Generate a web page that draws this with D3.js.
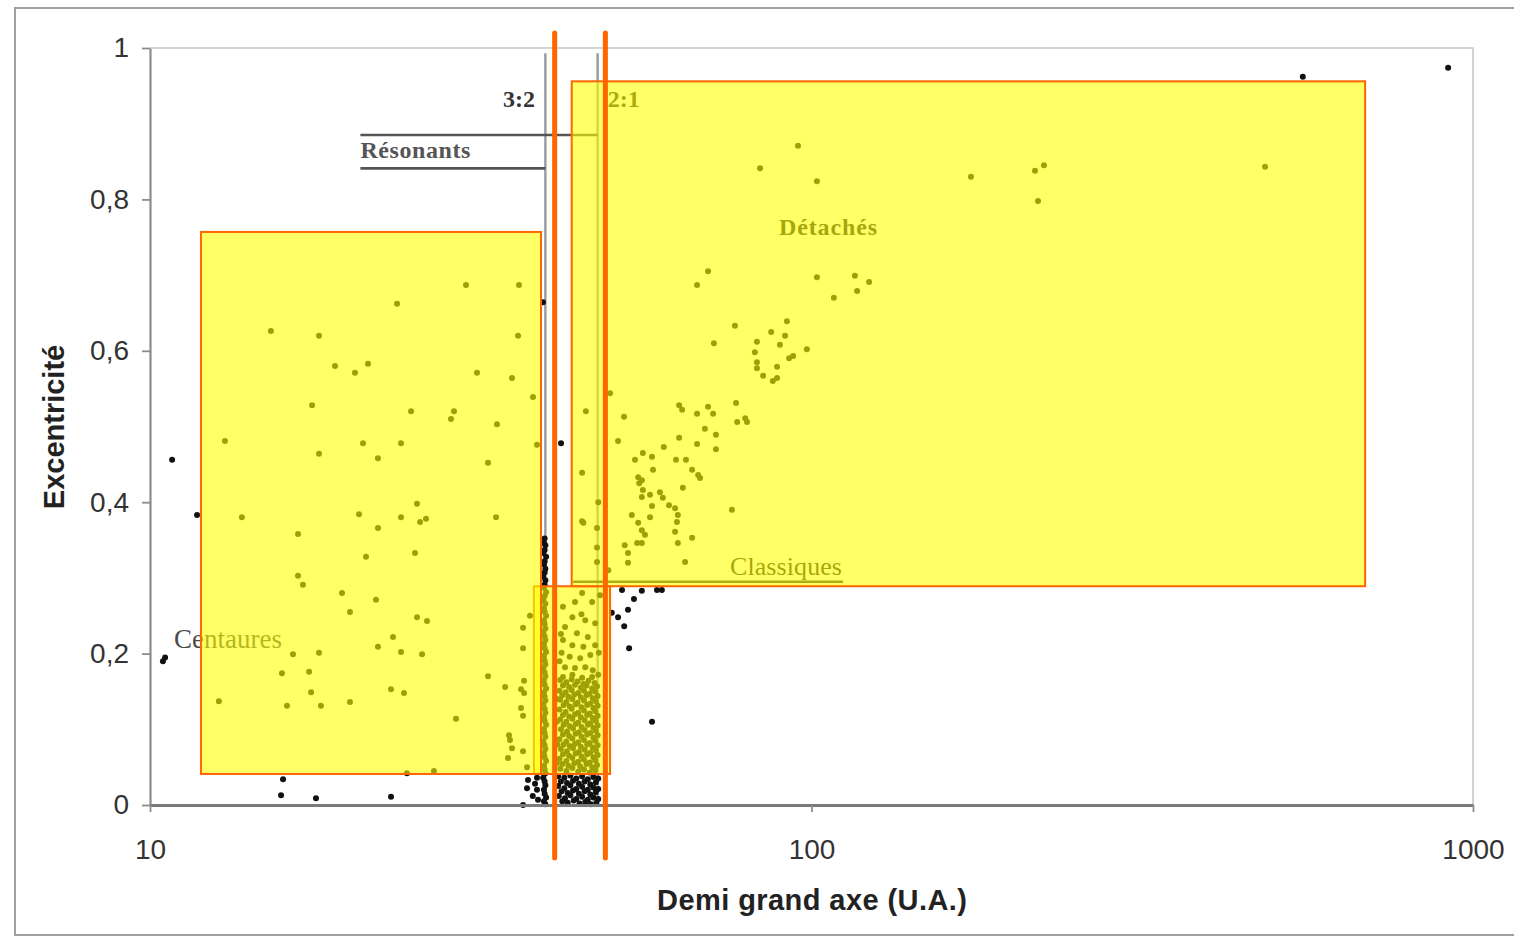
<!DOCTYPE html>
<html>
<head>
<meta charset="utf-8">
<script src="https://cdn.jsdelivr.net/npm/d3@7"></script>
<style>
  html, body { margin: 0; padding: 0; background: #fff; }
  svg { display: block; }
</style>
</head>
<body>
<svg id="chart" width="1514" height="938"></svg>
<script>
// Axis ticks
const xTicks = [10, 100, 1000];
const xTickLabels = ["10", "100", "1000"];
const yTicks = [0, 0.2, 0.4, 0.6, 0.8, 1];
const yTickLabels = ["0", "0,2", "0,4", "0,6", "0,8", "1"];

// Objects as [demi grand axe (UA), excentricité]
const centaures = [
  [10.80,0.456],[11.78,0.383],[10.54,0.195],[10.46,0.190],[30.04,0.687],[36.13,0.687],
  [23.63,0.662],[39.27,0.664],[15.23,0.626],[18.01,0.620],[36.01,0.620],[19.04,0.580],
  [20.41,0.571],[21.36,0.583],[31.21,0.571],[35.26,0.564],[37.93,0.539],[17.58,0.528],
  [24.81,0.520],[28.81,0.520],[28.51,0.510],[33.46,0.503],[12.98,0.481],[20.99,0.478],
  [23.96,0.478],[38.46,0.476],[18.01,0.464],[22.11,0.458],[32.43,0.452],[25.33,0.398],
  [13.77,0.380],[20.70,0.384],[23.96,0.380],[25.60,0.374],[26.14,0.378],[33.35,0.380],
  [22.11,0.366],[16.74,0.358],[21.21,0.328],[25.15,0.333],[16.74,0.303],[17.03,0.291],
  [19.51,0.280],[21.96,0.271],[20.06,0.255],[25.33,0.248],[26.23,0.243],[37.53,0.250],
  [36.64,0.234],[23.30,0.222],[22.11,0.209],[23.96,0.202],[25.78,0.199],[16.45,0.199],
  [18.01,0.201],[36.64,0.207],[15.83,0.174],[17.40,0.176],[32.43,0.170],[34.42,0.156],
  [36.77,0.164],[36.38,0.153],[36.77,0.148],[17.52,0.149],[23.14,0.153],[24.21,0.148],
  [12.71,0.137],[16.11,0.131],[18.13,0.131],[20.06,0.136],[36.38,0.128],[36.64,0.118],
  [29.01,0.114],[34.89,0.092],[35.01,0.086],[35.26,0.075],[36.64,0.071],[34.77,0.062],
  [37.15,0.050],[24.46,0.042],[26.87,0.045],[15.89,0.034],[15.78,0.013],[17.82,0.009],
  [23.14,0.011],[37.28,0.033],[38.46,0.036],[37.15,0.022],[38.60,0.007],[36.64,0.000],
  [38.46,0.020],[37.9,0.012],[38.2,0.028]
];

const plutinos = [
  [39.5,0.352],[39.4,0.346],[39.6,0.343],[39.5,0.337],[39.3,0.333],[39.7,0.328],[39.5,0.322],
  [39.4,0.318],[39.6,0.312],[39.5,0.307],[39.3,0.302],[39.6,0.297],[39.5,0.291],[39.4,0.287],
  [39.7,0.281],[39.5,0.276],[39.3,0.270],[39.6,0.266],[39.4,0.260],[39.5,0.255],[39.7,0.250],
  [39.4,0.244],[39.5,0.239],[39.6,0.233],[39.3,0.229],[39.5,0.223],[39.6,0.218],[39.4,0.213],
  [39.5,0.207],[39.7,0.202],[39.4,0.197],[39.5,0.191],[39.6,0.186],[39.3,0.181],[39.5,0.175],
  [39.6,0.170],[39.4,0.165],[39.5,0.159],[39.7,0.154],[39.4,0.149],[39.5,0.143],[39.6,0.138],
  [39.3,0.133],[39.5,0.127],[39.6,0.122],[39.4,0.116],[39.5,0.111],[39.7,0.106],[39.4,0.100],
  [39.5,0.095],[39.6,0.090],[39.3,0.084],[39.5,0.079],[39.6,0.074],[39.4,0.068],[39.5,0.063],
  [39.7,0.058],[39.4,0.052],[39.5,0.047],[39.6,0.042],[39.3,0.036],[39.5,0.031],[39.6,0.026],
  [39.4,0.020],[39.5,0.015],[39.7,0.010],[39.4,0.005],[39.6,0.001]
];

const classiques = [
  // partie clairsemée
  [42.1,0.262],[43.9,0.268],[45.0,0.280],[46.6,0.268],[47.9,0.277],[43.5,0.248],[45.5,0.244],
  [47.1,0.240],[42.4,0.235],[44.2,0.227],[45.9,0.222],[42.1,0.218],[43.5,0.211],[45.2,0.209],
  [47.1,0.211],[41.9,0.201],[43.1,0.196],[44.7,0.194],[46.3,0.198],[47.7,0.201],[42.4,0.182],
  [43.9,0.181],[45.5,0.182],[46.7,0.178],[42.1,0.169],[43.5,0.172],[45.0,0.168],[46.6,0.169],
  [47.6,0.172],[41.6,0.190],[41.8,0.226],[44.9,0.252],
  // noyau dense
  [41.7,0.165],[42.6,0.162],[43.4,0.166],[44.3,0.163],[45.2,0.160],[46.0,0.164],[47.0,0.161],
  [42.1,0.158],[43.0,0.156],[43.9,0.159],[44.8,0.155],[45.7,0.158],[46.6,0.154],[47.4,0.157],
  [41.6,0.151],[42.5,0.149],[43.4,0.152],[44.4,0.148],[45.3,0.151],[46.2,0.147],[47.1,0.150],
  [42.0,0.145],[42.9,0.143],[43.8,0.146],[44.8,0.142],[45.7,0.145],[46.7,0.141],[47.5,0.144],
  [41.7,0.139],[42.6,0.136],[43.5,0.140],[44.3,0.135],[45.3,0.138],[46.3,0.134],[47.2,0.137],
  [42.2,0.132],[43.1,0.130],[44.0,0.133],[44.9,0.129],[45.8,0.132],[46.8,0.128],[47.5,0.131],
  [41.6,0.126],[42.5,0.123],[43.4,0.127],[44.4,0.122],[45.3,0.125],[46.2,0.121],[47.1,0.124],
  [42.1,0.119],[43.0,0.117],[43.9,0.120],[44.8,0.116],[45.8,0.119],[46.7,0.115],[47.5,0.118],
  [41.7,0.113],[42.6,0.110],[43.5,0.114],[44.4,0.109],[45.4,0.112],[46.3,0.108],[47.2,0.111],
  [42.2,0.106],[43.1,0.104],[44.0,0.107],[44.9,0.103],[45.9,0.106],[46.8,0.102],[47.5,0.105],
  [41.8,0.100],[42.7,0.097],[43.6,0.101],[44.5,0.096],[45.4,0.099],[46.3,0.095],[47.2,0.098],
  [42.1,0.093],[43.0,0.091],[44.0,0.094],[44.9,0.090],[45.8,0.093],[46.8,0.089],[47.5,0.092],
  [41.6,0.087],[42.6,0.084],[43.5,0.088],[44.4,0.083],[45.3,0.086],[46.2,0.082],[47.1,0.085],
  [42.2,0.080],[43.1,0.078],[43.9,0.081],[44.8,0.077],[45.8,0.080],[46.7,0.076],[47.5,0.079],
  [41.8,0.074],[42.7,0.071],[43.6,0.075],[44.5,0.070],[45.4,0.073],[46.3,0.069],[47.2,0.072],
  [42.1,0.067],[43.0,0.065],[44.0,0.068],[44.9,0.064],[45.8,0.067],[46.8,0.063],[47.5,0.066],
  [41.6,0.061],[42.6,0.058],[43.5,0.062],[44.4,0.057],[45.3,0.060],[46.2,0.056],[47.1,0.059],
  [42.0,0.054],[42.9,0.052],[43.8,0.055],[44.7,0.051],[45.7,0.054],[46.6,0.050],[47.4,0.053],
  [41.7,0.048],[42.6,0.045],[43.5,0.049],[44.4,0.044],[45.3,0.047],[46.2,0.043],[47.1,0.046],
  [41.3,0.140],[41.2,0.110],[41.3,0.080],[41.2,0.055],
  // excentricités faibles
  [41.4,0.038],[42.3,0.036],[43.2,0.039],[44.1,0.035],[45.0,0.038],[45.9,0.034],[46.8,0.037],[47.6,0.035],
  [41.8,0.031],[42.7,0.029],[43.6,0.032],[44.5,0.028],[45.4,0.031],[46.3,0.027],[47.2,0.030],
  [41.4,0.025],[42.3,0.022],[43.2,0.026],[44.1,0.021],[45.0,0.024],[45.9,0.020],[46.8,0.023],[47.6,0.021],
  [41.9,0.018],[42.8,0.016],[43.6,0.019],[44.5,0.015],[45.4,0.018],[46.3,0.014],[47.2,0.017],
  [41.5,0.012],[42.4,0.009],[43.2,0.013],[44.1,0.008],[45.0,0.011],[45.9,0.007],[46.8,0.010],[47.6,0.008],
  [42.0,0.005],[42.8,0.003],[43.7,0.006],[44.6,0.002],[45.5,0.004],[46.4,0.001],[47.3,0.003]
];

const detaches = [
  [95.4,0.871],[83.6,0.841],[101.9,0.824],[174.2,0.830],[217.7,0.838],[224.6,0.845],[220.0,0.798],
  [484.9,0.843],[69.76,0.705],[67.14,0.687],[101.9,0.697],[116.3,0.699],[122.2,0.691],[117.2,0.679],
  [108.1,0.670],[76.6,0.633],[91.8,0.639],[86.9,0.625],[91.2,0.620],[82.7,0.612],[71.2,0.610],
  [89.6,0.608],[98.4,0.602],[82.1,0.598],[93.8,0.593],[92.5,0.590],[82.7,0.585],[82.7,0.577],
  [88.7,0.579],[84.5,0.567],[88.7,0.564],[87.4,0.560],[49.6,0.544],[45.6,0.520],[76.9,0.531],
  [52.07,0.513],[63.08,0.528],[63.74,0.522],[67.14,0.517],[69.76,0.526],[71.0,0.517],[77.2,0.506],
  [79.4,0.511],[79.9,0.506],[69.0,0.497],[71.7,0.489],[51.0,0.481],[63.08,0.485],[67.14,0.477],
  [71.7,0.470],[59.8,0.473],[54.1,0.456],[55.6,0.465],[57.4,0.460],[62.4,0.456],[64.6,0.456],
  [57.6,0.443],[66.0,0.443],[67.4,0.436],[67.85,0.432],[54.7,0.433],[55.4,0.429],[54.9,0.425],
  [63.9,0.419],[55.6,0.416],[55.4,0.407],[57.0,0.410],[59.0,0.413],[59.6,0.406],[57.4,0.395],
  [60.9,0.396],[62.2,0.392],[62.8,0.383],[53.5,0.383],[57.0,0.380],[75.8,0.390],[54.7,0.373],
  [55.4,0.363],[56.0,0.357],[62.6,0.374],[62.2,0.361],[66.0,0.353],[52.2,0.343],[54.5,0.346],
  [55.4,0.346],[62.8,0.346],[52.8,0.333],[52.8,0.320],[64.4,0.321],[49.3,0.310],[45.0,0.439],
  [45.0,0.375],[47.6,0.400],[47.4,0.366],[47.4,0.340],[47.4,0.321],[45.2,0.373]
];

const isoles = [
  [41.82,0.478],[51.7,0.284],[55.4,0.283],[58.4,0.284],[59.4,0.284],[53.9,0.272],[52.8,0.258],
  [51.0,0.248],[52.1,0.236],[53.0,0.207],[57.4,0.110],[49.9,0.254],[553,0.962],[917,0.974]
];

// Resonances with Neptune and region boundaries
const resonances = [{ nom: "3:2", a: 39.6 }, { nom: "2:1", a: 47.5 }];
const zones = [
  { nom: "Classiques", a0: 38.06, a1: 49.6, e0: 0.041, e1: 0.289 },
  { nom: "Centaures", a0: 11.94, a1: 39.0, e0: 0.041, e1: 0.757 },
  { nom: "Détachés", a0: 43.4, a1: 687, e0: 0.289, e1: 0.956 }
];
const bornes = [40.9, 48.8];

const svg = d3.select("#chart");
const x = d3.scaleLog().domain([10, 1000]).range([150, 1473]);
const y = d3.scaleLinear().domain([0, 1]).range([805, 48]);

// Outer frame
svg.append("rect")
  .attr("x", 15).attr("y", 8).attr("width", 1540).attr("height", 927)
  .attr("fill", "none").attr("stroke", "#a0a0a0").attr("stroke-width", 2);

// Plot area border (top and right)
svg.append("path")
  .attr("d", `M${x(10)},${y(1)}H${x(1000)}V${y(0)}`)
  .attr("fill", "none").attr("stroke", "#c8c8c8").attr("stroke-width", 1.6);

// Resonance lines
const annot = svg.append("g");
annot.selectAll("line.res").data(resonances).join("line")
  .attr("class", "res")
  .attr("x1", d => x(d.a)).attr("x2", d => x(d.a))
  .attr("y1", y(0.993)).attr("y2", y(0))
  .attr("stroke", "#9a9a9a").attr("stroke-width", 2.4);

const serif = "'Liberation Serif', 'Times New Roman', serif";
annot.append("text").text("3:2")
  .attr("x", x(38.2)).attr("y", y(0.922)).attr("text-anchor", "end")
  .attr("font-family", serif).attr("font-weight", "bold").attr("font-size", 24)
  .attr("fill", "#333").attr("textLength", 32);
annot.append("text").text("2:1")
  .attr("x", x(49.2)).attr("y", y(0.922))
  .attr("font-family", serif).attr("font-weight", "bold").attr("font-size", 24)
  .attr("fill", "#2a2a2a").attr("textLength", 32);

// Résonants bracket
annot.append("line")
  .attr("x1", x(20.8)).attr("x2", x(47.5)).attr("y1", y(0.885)).attr("y2", y(0.885))
  .attr("stroke", "#555").attr("stroke-width", 2.6);
annot.append("line")
  .attr("x1", x(20.8)).attr("x2", x(39.6)).attr("y1", y(0.841)).attr("y2", y(0.841))
  .attr("stroke", "#555").attr("stroke-width", 2.6);
annot.append("text").text("Résonants")
  .attr("x", x(20.8)).attr("y", y(0.855))
  .attr("font-family", serif).attr("font-weight", "bold").attr("font-size", 24)
  .attr("fill", "#555").attr("textLength", 110);

annot.append("text").text("Détachés")
  .attr("x", x(89.3)).attr("y", y(0.753))
  .attr("font-family", serif).attr("font-weight", "bold").attr("font-size", 24)
  .attr("fill", "#222").attr("textLength", 98);

annot.append("text").text("Classiques")
  .attr("x", x(75.3)).attr("y", y(0.304))
  .attr("font-family", serif).attr("font-size", 26)
  .attr("fill", "#222").attr("textLength", 112);
annot.append("line")
  .attr("x1", x(43.6)).attr("x2", x(111.6)).attr("y1", y(0.295)).attr("y2", y(0.295))
  .attr("stroke", "#333").attr("stroke-width", 2.4);

annot.append("text").text("Centaures")
  .attr("x", x(10.87)).attr("y", y(0.207))
  .attr("font-family", serif).attr("font-size", 27)
  .attr("fill", "#4a4a4a").attr("textLength", 108);

// Objects
const allObjects = [...centaures, ...plutinos, ...classiques, ...detaches, ...isoles];
svg.append("g").selectAll("circle").data(allObjects).join("circle")
  .attr("cx", d => x(d[0])).attr("cy", d => y(d[1])).attr("r", 3)
  .attr("fill", "#111");

// Axes
const sans = "'Liberation Sans', Arial, sans-serif";
const yAxis = svg.append("g").attr("transform", `translate(${x(10)},0)`)
  .call(d3.axisLeft(y).tickValues(yTicks)
    .tickFormat((d, i) => yTickLabels[i]).tickSize(8).tickSizeOuter(0).tickPadding(13));
yAxis.select(".domain").attr("stroke", "#8c8c8c").attr("stroke-width", 2.2);
yAxis.selectAll(".tick line").attr("stroke", "#8c8c8c").attr("stroke-width", 1.8);
yAxis.selectAll(".tick text").attr("font-family", sans).attr("font-size", 28).attr("fill", "#333");

const xAxis = svg.append("g").attr("transform", `translate(0,${y(0)})`)
  .call(d3.axisBottom(x).tickValues(xTicks)
    .tickFormat((d, i) => xTickLabels[i]).tickSize(7).tickSizeOuter(0).tickPadding(27));
xAxis.select(".domain").attr("stroke", "#7a7a7a").attr("stroke-width", 2.8);
xAxis.selectAll(".tick line").attr("stroke", "#8c8c8c").attr("stroke-width", 1.8);
xAxis.selectAll(".tick text").attr("font-family", sans).attr("font-size", 28).attr("fill", "#333");

// Axis titles
svg.append("text").text("Demi grand axe (U.A.)")
  .attr("x", 812).attr("y", 910).attr("text-anchor", "middle")
  .attr("font-family", sans).attr("font-weight", "bold").attr("font-size", 29).attr("fill", "#222")
  .attr("textLength", 310);
svg.append("text").text("Excentricité")
  .attr("transform", "translate(64,427) rotate(-90)").attr("text-anchor", "middle")
  .attr("font-family", sans).attr("font-weight", "bold").attr("font-size", 29).attr("fill", "#222");

// Highlighted regions
svg.append("g").selectAll("rect").data(zones).join("rect")
  .attr("x", d => x(d.a0)).attr("y", d => y(d.e1))
  .attr("width", d => x(d.a1) - x(d.a0)).attr("height", d => y(d.e0) - y(d.e1))
  .attr("fill", "#ffff00").attr("fill-opacity", 0.6)
  .attr("stroke", "#ff6600").attr("stroke-width", 2);

// Classical belt limits
svg.append("g").selectAll("line").data(bornes).join("line")
  .attr("x1", d => x(d)).attr("x2", d => x(d))
  .attr("y1", y(1) - 15).attr("y2", y(0) + 53)
  .attr("stroke", "#ff6600").attr("stroke-width", 5).attr("stroke-linecap", "round");
</script>
</body>
</html>
